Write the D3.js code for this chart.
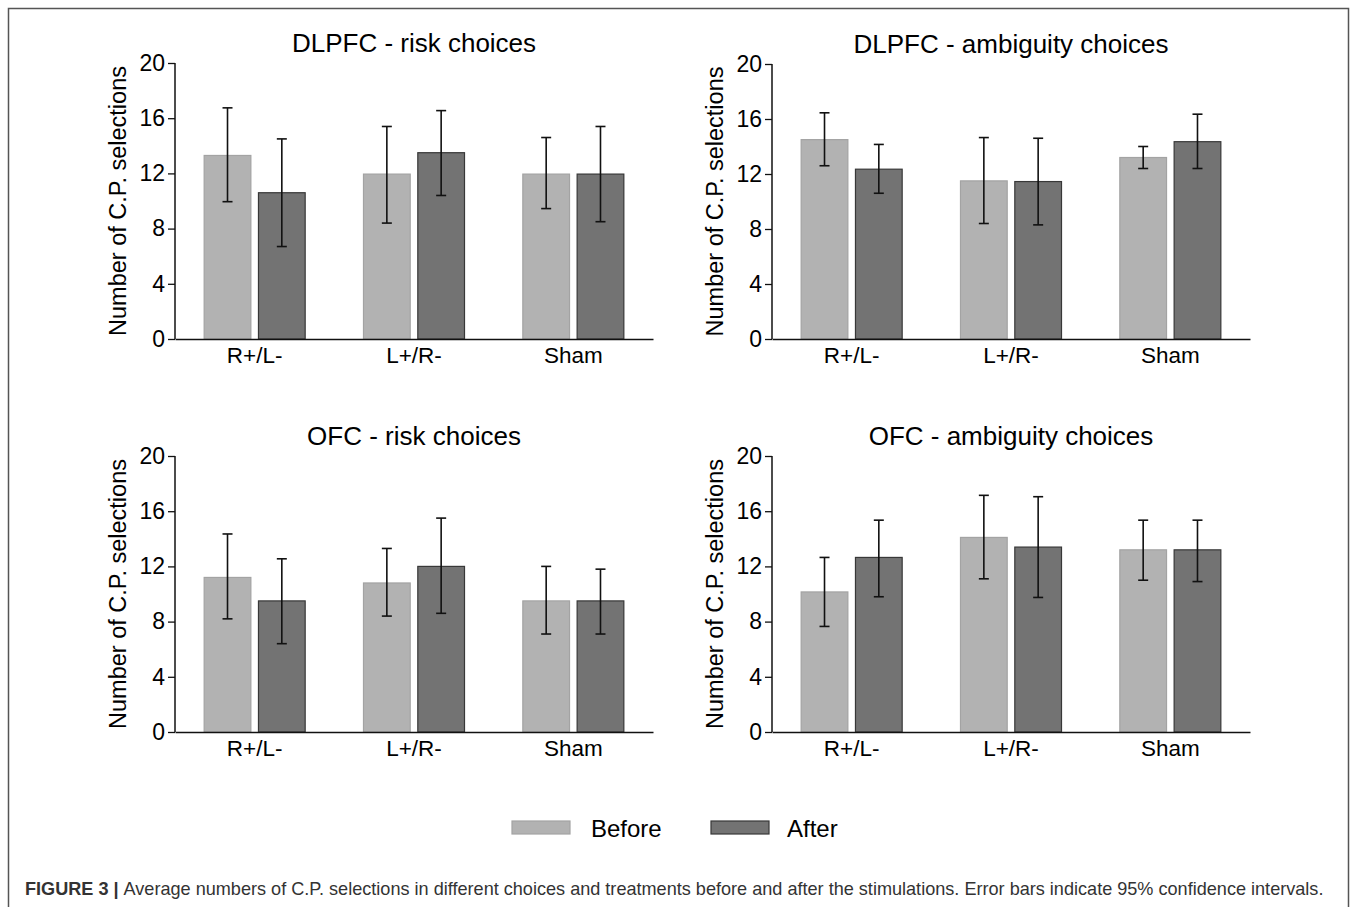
<!DOCTYPE html>
<html>
<head>
<meta charset="utf-8">
<script src="https://cdn.jsdelivr.net/npm/d3@7"></script>
<style>
  body { margin: 0; background: #fff; }
  svg { display: block; font-family: "Liberation Sans", Arial, sans-serif; }
</style>
</head>
<body>
<div id="chart"></div>
<script>
// treatments and series
const categories = ['R+/L-', 'L+/R-', 'Sham'];
const series = ['Before', 'After'];
const yTicks = [0, 4, 8, 12, 16, 20];

// panel titles
const titles = ['DLPFC - risk choices', 'DLPFC - ambiguity choices', 'OFC - risk choices', 'OFC - ambiguity choices'];

// mean values, one array per panel, [Before, After] per treatment
const dlpfcRisk = [[13.3, 10.6], [11.95, 13.5], [11.95, 11.95]];
const dlpfcAmb = [[14.5, 12.35], [11.5, 11.45], [13.2, 14.35]];
const ofcRisk = [[11.2, 9.5], [10.8, 12.0], [9.5, 9.5]];
const ofcAmb = [[10.15, 12.65], [14.1, 13.4], [13.2, 13.2]];

// 95% CI [low, high]
const dlpfcRiskCI = [[[9.95, 16.75], [6.7, 14.5]], [[8.4, 15.4], [10.4, 16.55]], [[9.45, 14.6], [8.5, 15.4]]];
const dlpfcAmbCI = [[[12.6, 16.45], [10.6, 14.15]], [[8.4, 14.65], [8.3, 14.6]], [[12.4, 14.0], [12.4, 16.35]]];
const ofcRiskCI = [[[8.2, 14.35], [6.4, 12.55]], [[8.4, 13.3], [8.6, 15.5]], [[7.1, 12.0], [7.1, 11.8]]];
const ofcAmbCI = [[[7.65, 12.65], [9.8, 15.35]], [[11.1, 17.15], [9.75, 17.05]], [[11.0, 15.35], [10.9, 15.35]]];

const means = [dlpfcRisk, dlpfcAmb, ofcRisk, ofcAmb];
const cis = [dlpfcRiskCI, dlpfcAmbCI, ofcRiskCI, ofcAmbCI];

const W = 1357, H = 907;
const fills = { Before: '#b2b2b2', After: '#737373' };
const strokes = { Before: '#a3a3a3', After: '#383838' };
const font = '"Liberation Sans", Arial, sans-serif';

const svg = d3.select('#chart').append('svg')
    .attr('width', W)
    .attr('height', H);

// figure frame (open at bottom)
svg.append('path')
    .attr('d', `M8.5,${H} L8.5,8.5 L1348.5,8.5 L1348.5,${H}`)
    .attr('fill', 'none')
    .attr('stroke', '#555')
    .attr('stroke-width', 1.5);

// panel placement
const panels = [
    { left: 175, right: 653, top: 63, bottom: 339 },
    { left: 772, right: 1250, top: 64, bottom: 339 },
    { left: 175, right: 653, top: 456, bottom: 732 },
    { left: 772, right: 1250, top: 456, bottom: 732 }
];

panels.forEach((p, i) => {
    const g = svg.append('g');

    const x = d3.scaleBand()
        .domain(categories)
        .range([p.left, p.right])
        .paddingInner(0.366)
        .paddingOuter(0.183);

    const xs = d3.scaleBand()
        .domain(series)
        .range([0, x.bandwidth()])
        .paddingInner(0.14);

    const y = d3.scaleLinear()
        .domain([0, 20])
        .range([p.bottom, p.top]);

    const rows = [];
    categories.forEach((c, ci) => {
        series.forEach((s, si) => {
            rows.push({ cat: c, ser: s, v: means[i][ci][si], lo: cis[i][ci][si][0], hi: cis[i][ci][si][1] });
        });
    });

    // bars
    g.selectAll('rect.bar')
        .data(rows)
        .enter().append('rect')
        .attr('class', 'bar')
        .attr('x', d => x(d.cat) + xs(d.ser))
        .attr('y', d => y(d.v))
        .attr('width', xs.bandwidth())
        .attr('height', d => y(0) - y(d.v))
        .attr('fill', d => fills[d.ser])
        .attr('stroke', d => strokes[d.ser])
        .attr('stroke-width', 1.2);

    // error bars
    const eb = g.selectAll('g.err')
        .data(rows)
        .enter().append('g')
        .attr('class', 'err')
        .attr('transform', d => `translate(${x(d.cat) + xs(d.ser) + xs.bandwidth() / 2},0)`)
        .attr('stroke', '#111')
        .attr('stroke-width', 1.6);
    eb.append('line')
        .attr('y1', d => y(d.lo)).attr('y2', d => y(d.hi));
    eb.append('line')
        .attr('x1', -5).attr('x2', 5)
        .attr('y1', d => y(d.hi)).attr('y2', d => y(d.hi));
    eb.append('line')
        .attr('x1', -5).attr('x2', 5)
        .attr('y1', d => y(d.lo)).attr('y2', d => y(d.lo));

    // y axis
    const yAxis = g.append('g')
        .attr('transform', `translate(${p.left},0)`)
        .call(d3.axisLeft(y).tickValues(yTicks).tickSize(7).tickPadding(3));
    yAxis.select('.domain').attr('stroke', '#111').attr('stroke-width', 1.5)
        .attr('d', `M0,${p.top}V${p.bottom}`);
    yAxis.selectAll('.tick line').attr('stroke', '#111').attr('stroke-width', 1.3);
    yAxis.selectAll('.tick text')
        .attr('fill', '#000')
        .style('font-size', '23px')
        .style('font-family', font);

    // x axis
    const xAxis = g.append('g')
        .attr('transform', `translate(0,${p.bottom})`)
        .call(d3.axisBottom(x).tickSize(0).tickPadding(8));
    xAxis.select('.domain').attr('stroke', '#111').attr('stroke-width', 1.5);
    xAxis.selectAll('.tick text')
        .attr('fill', '#000')
        .style('font-size', '22.5px')
        .style('font-family', font);

    // title
    g.append('text')
        .attr('x', (p.left + p.right) / 2)
        .attr('y', p.top - 11)
        .attr('text-anchor', 'middle')
        .attr('fill', '#000')
        .style('font-size', '26px')
        .text(titles[i]);

    // y label
    g.append('text')
        .attr('transform', `translate(${p.left - 49},${(p.top + p.bottom) / 2}) rotate(-90)`)
        .attr('text-anchor', 'middle')
        .attr('fill', '#000')
        .style('font-size', '23.5px')
        .text('Number of C.P. selections');
});

// legend
const legendPos = [{ x: 512, tx: 591 }, { x: 711, tx: 787 }];
const leg = svg.append('g');
series.forEach((s, i) => {
    leg.append('rect')
        .attr('x', legendPos[i].x)
        .attr('y', 821)
        .attr('width', 58)
        .attr('height', 13)
        .attr('fill', fills[s])
        .attr('stroke', strokes[s])
        .attr('stroke-width', 1.2);
    leg.append('text')
        .attr('x', legendPos[i].tx)
        .attr('y', 837)
        .attr('fill', '#000')
        .style('font-size', '24px')
        .text(s);
});

// caption
const cap = svg.append('text')
    .attr('x', 25)
    .attr('y', 895)
    .attr('fill', '#333')
    .style('font-size', '18.1px')
    .style('font-family', font);
cap.append('tspan')
    .style('font-weight', 'bold')
    .text('FIGURE 3 | ');
cap.append('tspan')
    .text('Average numbers of C.P. selections in different choices and treatments before and after the stimulations. Error bars indicate 95% confidence intervals.');
</script>
</body>
</html>
